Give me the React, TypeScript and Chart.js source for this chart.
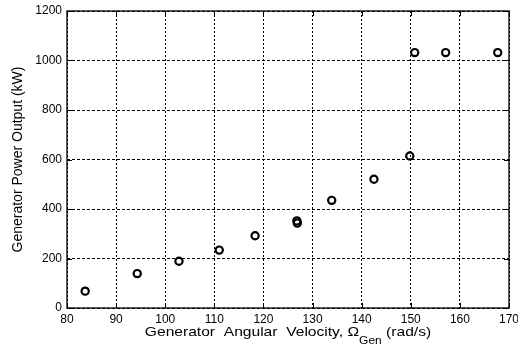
import React, { useEffect, useRef } from "react";
import { Chart, registerables } from "chart.js";
Chart.register(...registerables);

const omegaGen = [83.7, 94.3, 102.8, 111.0, 118.3, 126.8, 126.9, 133.9, 142.5, 149.8, 150.8, 157.1, 167.7];
const powerKW = [68, 139, 189, 234, 292, 352, 343, 435, 520, 614, 1032, 1032, 1032];
const xTickValues = [80, 90, 100, 110, 120, 130, 140, 150, 160, 170];
const yTickValues = [0, 200, 400, 600, 800, 1000, 1200];
const yTitle = "Generator Power Output (kW)";
const xTitleMain = "Generator  Angular  Velocity, \u03A9";
const xTitleSub = "Gen";
const xTitleEnd = " (rad/s)";

const FONT = "'Liberation Sans', Arial, sans-serif";

const framePlugin = {
  id: "frameAndTitle",
  afterDraw(chart: any) {
    const { ctx, chartArea } = chart;
    const { left, right, top, bottom } = chartArea;
    ctx.save();
    ctx.strokeStyle = "#000";
    ctx.lineWidth = 1.3;
    ctx.setLineDash([]);
    ctx.strokeRect(left, top, right - left, bottom - top);
    // inward tick marks
    ctx.lineWidth = 1;
    const xs = chart.scales.x;
    const ys = chart.scales.y;
    const tl = 5;
    ctx.beginPath();
    xTickValues.forEach((v) => {
      const px = Math.round(xs.getPixelForValue(v)) + 0.5;
      ctx.moveTo(px, bottom);
      ctx.lineTo(px, bottom - tl);
      ctx.moveTo(px, top);
      ctx.lineTo(px, top + tl);
    });
    yTickValues.forEach((v) => {
      const py = Math.round(ys.getPixelForValue(v)) + 0.5;
      ctx.moveTo(left, py);
      ctx.lineTo(left + tl, py);
      ctx.moveTo(right, py);
      ctx.lineTo(right - tl, py);
    });
    ctx.stroke();
    // x title with subscript, horizontally stretched glyphs
    const sx = 1.2;
    const mainFont = `13px ${FONT}`;
    const subFont = `10px ${FONT}`;
    ctx.font = mainFont;
    const w1 = ctx.measureText(xTitleMain).width;
    const w3 = ctx.measureText(xTitleEnd).width;
    ctx.font = subFont;
    const w2 = ctx.measureText(xTitleSub).width;
    const total = (w1 + w2 + w3) * sx;
    const cx = (left + right) / 2;
    const x0 = cx - total / 2;
    const y = 335.5;
    ctx.translate(x0, 0);
    ctx.scale(sx, 1);
    ctx.fillStyle = "#000";
    ctx.textBaseline = "alphabetic";
    ctx.textAlign = "left";
    let x = 0;
    ctx.font = mainFont;
    ctx.fillText(xTitleMain, x, y);
    x += w1;
    ctx.font = subFont;
    ctx.fillText(xTitleSub, x, y + 8);
    x += w2;
    ctx.font = mainFont;
    ctx.fillText(xTitleEnd, x, y);
    ctx.restore();
  },
};

export default function App() {
  const ref = useRef<HTMLCanvasElement | null>(null);
  useEffect(() => {
    if (!ref.current) return;
    const chart = new Chart(ref.current, {
      type: "scatter",
      data: {
        datasets: [
          {
            data: omegaGen.map((x, i) => ({ x, y: powerKW[i] })),
            showLine: false,
            pointStyle: "circle",
            pointRadius: 3.6,
            pointBorderWidth: 2.2,
            pointBorderColor: "#000",
            pointBackgroundColor: "rgba(255,255,255,0)",
          },
        ],
      },
      options: {
        animation: false,
        responsive: false,
        maintainAspectRatio: false,
        layout: { padding: { top: 11, right: 9, left: 0, bottom: 0 } },
        plugins: { legend: { display: false }, tooltip: { enabled: false } },
        scales: {
          x: {
            type: "linear",
            min: 80,
            max: 170,
            afterBuildTicks: (s: any) => {
              s.ticks = xTickValues.map((v) => ({ value: v }));
            },
            afterFit: (s: any) => {
              s.height = 39;
              s.paddingLeft = 0;
              s.paddingRight = 0;
            },
            ticks: {
              color: "#000",
              font: { family: FONT, size: 12 },
              padding: 4,
              maxRotation: 0,
              callback: (v: any) => String(v),
            },
            grid: { color: "#000", lineWidth: 1, drawTicks: false },
            border: { display: false, dash: [2, 2] },
          },
          y: {
            type: "linear",
            min: 0,
            max: 1200,
            afterBuildTicks: (s: any) => {
              s.ticks = yTickValues.map((v) => ({ value: v }));
            },
            afterFit: (s: any) => {
              s.width = 67;
              s.paddingTop = 0;
              s.paddingBottom = 0;
            },
            ticks: {
              color: "#000",
              font: { family: FONT, size: 12 },
              padding: 5,
              callback: (v: any) => String(v),
            },
            grid: { color: "#000", lineWidth: 1, drawTicks: false },
            border: { display: false, dash: [3, 2] },
            title: {
              display: true,
              text: yTitle,
              color: "#000",
              font: { family: FONT, size: 14 },
              padding: { top: 10, bottom: 0 },
            },
          },
        },
      },
      plugins: [framePlugin],
    });
    return () => chart.destroy();
  }, []);
  return (
    <div style={{ position: "absolute", left: 0, top: 0, width: 518, height: 347, background: "#fff" }}>
      <canvas ref={ref} width={518} height={347} style={{ width: 518, height: 347 }} />
    </div>
  );
}
